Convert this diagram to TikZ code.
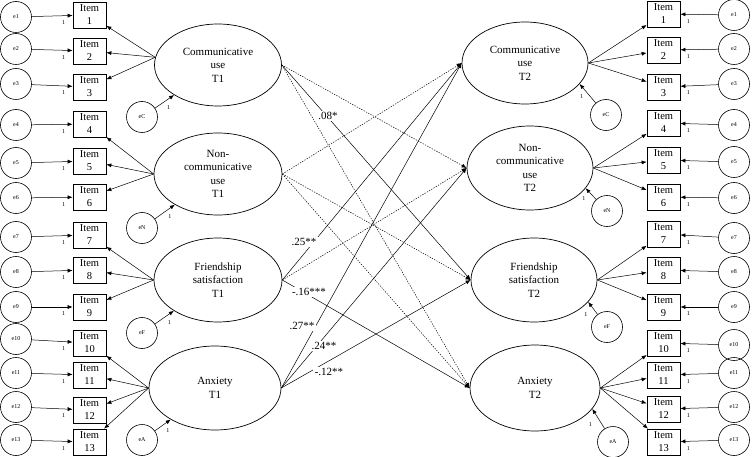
\documentclass[tikz,border=0pt]{standalone}
\usepackage{fontspec}
\setmainfont{Liberation Serif}
\usetikzlibrary{shapes.geometric,arrows.meta}
\tikzset{
  lat/.style={ellipse, draw, line width=0.7pt, inner sep=0pt, align=center, font=\fontsize{11}{13.5}\selectfont},
  itembox/.style={rectangle, draw, line width=0.7pt, minimum width=33pt, minimum height=26pt, inner sep=0pt, align=center, font=\fontsize{10.5}{13}\selectfont},
  errc/.style={circle, draw, line width=0.6pt, minimum size=31pt, inner sep=0pt, font=\fontsize{6}{7}\selectfont},
  arr/.style={-{Latex[length=5pt,width=4pt]}, line width=0.5pt},
  dotarr/.style={arr, dash pattern=on 1.3pt off 1.3pt},
  one/.style={font=\fontsize{6}{7}\selectfont, inner sep=0pt},
  coef/.style={font=\fontsize{11}{13}\selectfont, fill=white, inner sep=1.5pt},
}
\begin{document}
\begin{tikzpicture}[x=1pt,y=-1pt]
\useasboundingbox (0,0) rectangle (752,457);
\fill[white] (0,0) rectangle (752,457);

% latent variables
\node[lat, minimum width=127pt, minimum height=82pt] (L1) at (218,65) {Communicative\\use\\T1};
\node[lat, minimum width=128pt, minimum height=82pt] (L2) at (218,174) {Non-\\communicative\\use\\T1};
\node[lat, minimum width=128pt, minimum height=84pt] (L3) at (218,280) {Friendship\\satisfaction\\T1};
\node[lat, minimum width=132pt, minimum height=84pt] (L4) at (215,388) {Anxiety\\T1};

\node[lat, minimum width=126pt, minimum height=82pt] (R1) at (525,63) {Communicative\\use\\T2};
\node[lat, minimum width=126pt, minimum height=84pt] (R2) at (530,168) {Non-\\communicative\\use\\T2};
\node[lat, minimum width=126pt, minimum height=84pt] (R3) at (534,280) {Friendship\\satisfaction\\T2};
\node[lat, minimum width=130pt, minimum height=86pt] (R4) at (535,388) {Anxiety\\T2};

% left items and errors
\foreach \i/\iy/\ey in {1/15/17, 2/51/49, 3/87/84, 4/124/125, 5/161/163, 6/197/198, 7/235/237, 8/270/272, 9/307/307, 10/343/339, 11/375/373, 12/410/407, 13/442/440} {
  \node[itembox] (IL\i) at (89.5,\iy) {Item\\\i};
  \node[errc] (EL\i) at (16,\ey) {e\i};
  \draw[arr] (EL\i) -- (IL\i) node[one, pos=0.78, below=4.5pt] {1};
}
% right items and errors
\foreach \i/\iy/\ey in {1/14/15, 2/50/49, 3/87/84, 4/123/125, 5/160/162, 6/197/198, 7/234/238, 8/270/272, 9/307/307, 10/343/345, 11/375/373, 12/409/407, 13/442/440} {
  \node[itembox] (IR\i) at (663.5,\iy) {Item\\\i};
  \node[errc] (ER\i) at (734,\ey) {e\i};
  \draw[arr] (ER\i) -- (IR\i) node[one, pos=0.79, below=4.5pt] {1};
}

% loadings
\foreach \i in {1,2,3} \draw[arr] (L1.173) -- (IL\i);
\foreach \i in {4,5,6} \draw[arr] (L2.west) -- (IL\i);
\foreach \i in {7,8,9} \draw[arr] (L3.west) -- (IL\i);
\foreach \i in {10,11,12,13} \draw[arr] (L4.west) -- (IL\i);
\foreach \i in {1,2,3} \draw[arr] (R1.east) -- (IR\i);
\foreach \i in {4,5,6} \draw[arr] (R2.east) -- (IR\i);
\foreach \i in {7,8,9} \draw[arr] (R3.east) -- (IR\i);
\foreach \i in {10,11,12,13} \draw[arr] (R4.east) -- (IR\i);

% disturbances
\node[errc] (eCL) at (142,117) {eC};
\node[errc] (eNL) at (142,228) {eN};
\node[errc] (eFL) at (142,333) {eF};
\node[errc] (eAL) at (142,440) {eA};
\draw[arr] (eCL) -- (L1) node[one, midway, xshift=4pt, yshift=-6pt] {1};
\draw[arr] (eNL) -- (L2) node[one, midway, xshift=5pt, yshift=-5pt] {1};
\draw[arr] (eFL) -- (L3) node[one, midway, xshift=5pt, yshift=-5pt] {1};
\draw[arr] (eAL) -- (L4) node[one, midway, xshift=5pt, yshift=-5pt] {1};

\node[errc] (eCR) at (606,115) {eC};
\node[errc] (eNR) at (607,211) {eN};
\node[errc] (eFR) at (607,327) {eF};
\node[errc] (eAR) at (613,442) {eA};
\draw[arr] (eCR) -- (R1.-21) node[one, midway, xshift=-6pt, yshift=-3pt] {1};
\draw[arr] (eNR) -- (R2.-20) node[one, midway, xshift=-7pt, yshift=-5pt] {1};
\draw[arr] (eFR) -- (R3.-22) node[one, midway, xshift=-7pt, yshift=-6pt] {1};
\draw[arr] (eAR) -- (R4.-20) node[one, midway, xshift=-8pt, yshift=-6pt] {1};

% structural paths
\draw[dotarr] (L1.east) -- (R2.west);
\draw[arr]    (L1.east) -- (R3.west);
\draw[dotarr] (L1.east) -- (R4.west);
\draw[dotarr] (L2.east) -- (R1.west);
\draw[dotarr] (L2.east) -- (R3.west);
\draw[dotarr] (L2.east) -- (R4.west);
\draw[arr]    (L3.east) -- (R1.west);
\draw[dotarr] (L3.east) -- (R2.west);
\draw[arr]    (L3.east) -- (R4.west);
\draw[arr]    (L4.east) -- (R1.west);
\draw[arr]    (L4.east) -- (R2.west);
\draw[arr]    (L4.east) -- (R3.west);

% coefficients
\node[coef] (c1) at (328,116) {.08*};
\node[coef] (c2) at (304,242) {.25**};
\node[coef] (c3) at (309,292) {-.16***};
\node[coef] (c4) at (302,326) {.27**};
\node[coef] (c5) at (324,346) {.24**};
\node[coef] (c6) at (329,372) {-.12**};
\end{tikzpicture}
\end{document}
